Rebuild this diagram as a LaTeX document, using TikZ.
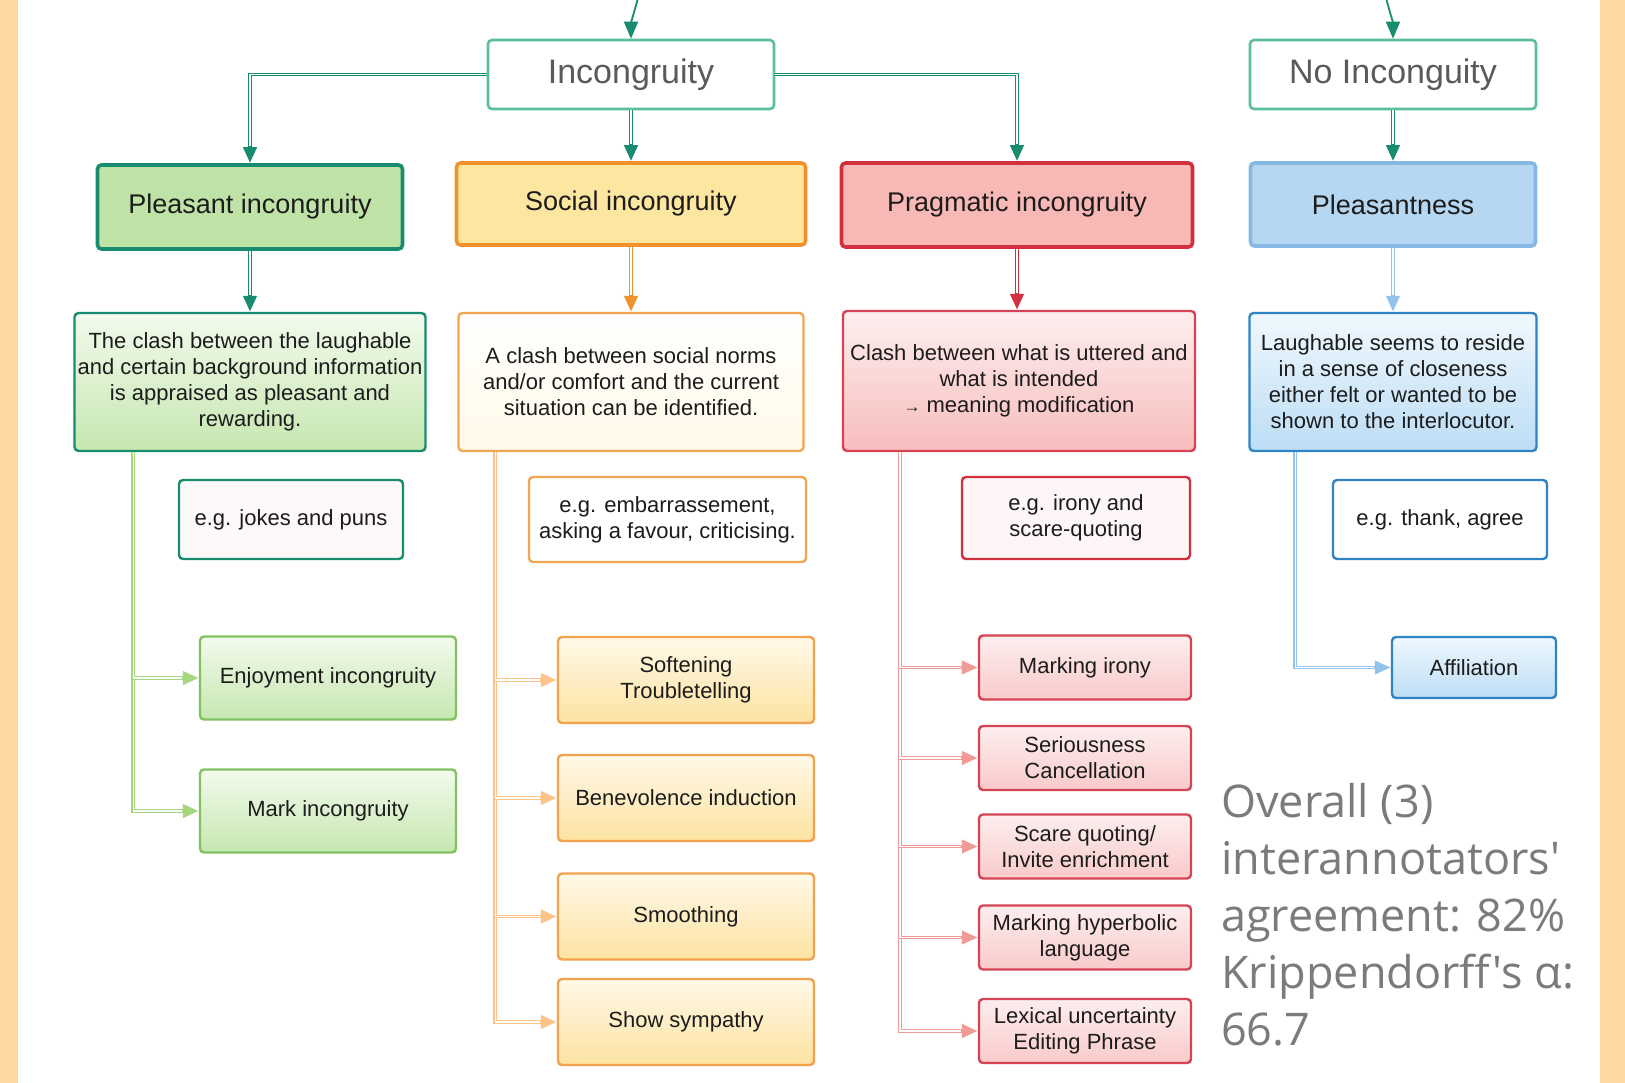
\documentclass[tikz,border=0pt]{standalone}
\usepackage{fontspec}
\setmainfont{Liberation Sans}
\newfontfamily\notefont{Open Sans}
\usetikzlibrary{arrows.meta}

\definecolor{band}{HTML}{FFD7A3}
\definecolor{txt}{HTML}{1C1C1C}
\definecolor{grey}{HTML}{5A5A5A}
\definecolor{tealD}{HTML}{178C6E}
\definecolor{tealL}{HTML}{5BBE9E}
\definecolor{gHead}{HTML}{BFE3A6}
\definecolor{gTop}{HTML}{F2FAEC}
\definecolor{gBot}{HTML}{C6E7B1}
\definecolor{gLeaf}{HTML}{82C160}
\definecolor{gLink}{HTML}{A6D67E}
\definecolor{oBord}{HTML}{F0912C}
\definecolor{oHead}{HTML}{FDE6A0}
\definecolor{oDesc}{HTML}{F2A654}
\definecolor{oTop}{HTML}{FFF9E8}
\definecolor{oBot}{HTML}{FDE2A2}
\definecolor{oLink}{HTML}{FDC489}
\definecolor{rBord}{HTML}{D22F3F}
\definecolor{rHead}{HTML}{F8B8B6}
\definecolor{rDesc}{HTML}{D44455}
\definecolor{rTop}{HTML}{FDEEEE}
\definecolor{rBot}{HTML}{F8BDBD}
\definecolor{rLink}{HTML}{F29A95}
\definecolor{bBord}{HTML}{86B8E3}
\definecolor{bHead}{HTML}{B6D7F1}
\definecolor{bDesc}{HTML}{2E84C4}
\definecolor{bTop}{HTML}{F0F8FE}
\definecolor{bBot}{HTML}{BCDDF5}
\definecolor{bLink}{HTML}{93C2EA}

\tikzset{
  box/.style={rectangle, rounded corners=4pt, align=center, inner sep=2pt,
    text=txt, font=\fontsize{22}{26}\selectfont},
  topbox/.style={box, draw=tealL, line width=2.6pt, fill=white, text=grey,
    font=\fontsize{34}{40}\selectfont, minimum width=286pt, minimum height=69pt},
  headbox/.style 2 args={box, draw=#1, fill=#2, line width=3.6pt,
    font=\fontsize{27}{32}\selectfont},
  desc/.style n args={3}{box, draw=#1, top color=#2, bottom color=#3,
    line width=2.4pt, minimum height=138pt},
  exbox/.style 2 args={box, draw=#1, fill=#2, line width=2.4pt},
  leaf/.style n args={3}{box, draw=#1, top color=#2, bottom color=#3, line width=2.4pt},
  link/.style={draw=#1, line width=3.9pt, -{Triangle[length=16pt,width=13pt]},
    postaction={draw=white, line width=1.4pt, -, shorten >=17pt}},
  feed/.style={draw=tealD, line width=1.8pt, -{Triangle[length=17pt,width=14pt]}}
}

\begin{document}
\begin{tikzpicture}[x=1pt,y=-1pt]
  \fill[white] (0,0) rectangle (1625,1083);
  \useasboundingbox (0,0) rectangle (1625,1083);
  \fill[band] (0,0) rectangle (18,1083);
  \fill[band] (1600,0) rectangle (1625,1083);

  \node[topbox] (incong) at (631,74.5) {Incongruity};
  \node[topbox] (noincong) at (1393,74.5) {No Inconguity};
  \coordinate (srcA) at (638,-2);
  \coordinate (srcB) at (1386,-2);
  \draw[feed] (srcA) to[out=-105,in=90] (incong.north);
  \draw[feed] (srcB) to[out=-75,in=90] (noincong.north);

  \node[headbox={tealD}{gHead}, minimum width=305pt, minimum height=84pt] (pleasant) at (250,207) {Pleasant incongruity};
  \node[headbox={oBord}{oHead}, minimum width=349pt, minimum height=82pt] (social) at (631,204) {Social incongruity};
  \node[headbox={rBord}{rHead}, minimum width=351pt, minimum height=84pt] (pragmatic) at (1017,205) {Pragmatic incongruity};
  \node[headbox={bBord}{bHead}, minimum width=285pt, minimum height=83pt] (pleasantness) at (1393,204.5) {Pleasantness};

  \node[desc={tealD}{gTop}{gBot}, minimum width=351pt] (pdesc) at (250,382)
    {The clash between the laughable\\and certain background information\\is appraised as pleasant and\\rewarding.};
  \node[desc={oDesc}{white}{oTop}, minimum width=345pt] (sdesc) at (631,382)
    {A clash between social norms\\and/or comfort and the current\\situation can be identified.};
  \node[desc={rDesc}{rTop}{rBot}, minimum width=352pt, minimum height=140pt] (rdesc) at (1019,381)
    {Clash between what is uttered and\\what is intended\\{\fontsize{17}{26}\selectfont →} meaning modification};
  \node[desc={bDesc}{bTop}{bBot}, minimum width=287pt] (bdesc) at (1393,382)
    {Laughable seems to reside\\in a sense of closeness\\either felt or wanted to be\\shown to the interlocutor.};

  \node[exbox={tealD}{rTop!40!white}, minimum width=224pt, minimum height=79pt] (pex) at (291,519.5) {e.g. jokes and puns};
  \node[exbox={oDesc}{white}, minimum width=277pt, minimum height=85pt] (sex) at (667.5,519.5) {e.g. embarrassement,\\asking a favour, criticising.};
  \node[exbox={rBord}{rTop!50!white}, minimum width=228pt, minimum height=82pt] (rex) at (1076,518) {e.g. irony and\\scare-quoting};
  \node[exbox={bDesc}{white}, minimum width=214pt, minimum height=79pt] (bex) at (1440,519.5) {e.g. thank, agree};

  \foreach \name/\y/\txt in {enjoy/678/Enjoyment incongruity, mark/811/Mark incongruity} {
    \node[leaf={gLeaf}{gTop}{gBot}, minimum width=256pt, minimum height=83pt] (\name) at (328,\y) {\txt};
  }
  \foreach \name/\y/\txt in {soft/680/{Softening\\Troubletelling}, bene/798/Benevolence induction,
      smooth/916.5/Smoothing, symp/1022/Show sympathy} {
    \node[leaf={oBord!85!white}{oTop}{oBot}, minimum width=256pt, minimum height=86pt] (\name) at (686,\y) {\txt};
  }
  \foreach \name/\y/\txt in {mirony/667.5/Marking irony, serious/758/{Seriousness\\Cancellation},
      scare/846.5/{Scare quoting/\\Invite enrichment}, hyper/937.5/{Marking hyperbolic\\language},
      lexical/1031/{Lexical uncertainty\\Editing Phrase}} {
    \node[leaf={rDesc}{rTop}{rBot!80!white}, minimum width=212pt, minimum height=64pt] (\name) at (1085,\y) {\txt};
  }
  \node[leaf={bDesc}{bTop}{bBot}, minimum width=164pt, minimum height=61pt] (affil) at (1474,667.5) {Affiliation};

  \draw[link=tealD] (incong.west) -| (pleasant.north);
  \draw[link=tealD] (incong) -- (social);
  \draw[link=tealD] (incong.east) -| (pragmatic.north);
  \draw[link=tealD] (noincong) -- (pleasantness);
  \draw[link=tealD] (pleasant) -- (pdesc);
  \draw[link=oBord] (social) -- (sdesc);
  \draw[link=rBord] (pragmatic) -- (pragmatic |- rdesc.north);
  \draw[link=bLink] (pleasantness) -- (bdesc);

  \coordinate (gtrunk) at ([xshift=60pt]pdesc.south west);
  \coordinate (otrunk) at ([xshift=38pt]sdesc.south west);
  \coordinate (rtrunk) at ([xshift=58pt]rdesc.south west);
  \coordinate (btrunk) at ([xshift=47pt]bdesc.south west);
  \foreach \name in {mark,enjoy}
    \draw[link=gLink] (gtrunk) |- (\name.west);
  \foreach \name in {symp,smooth,bene,soft}
    \draw[link=oLink] (otrunk) |- (\name.west);
  \foreach \name in {lexical,hyper,scare,serious,mirony}
    \draw[link=rLink] (rtrunk) |- (\name.west);
  \draw[link=bLink] (btrunk) |- (affil.west);

  \node[anchor=west, align=left, inner sep=0pt, text=grey!80,
    font=\notefont\fontsize{45}{57}\selectfont] (overall) at (1221,915)
    {Overall (3)\\interannotators'\\agreement: 82\%\\Krippendorff's α:\\66.7};
\end{tikzpicture}
\end{document}
